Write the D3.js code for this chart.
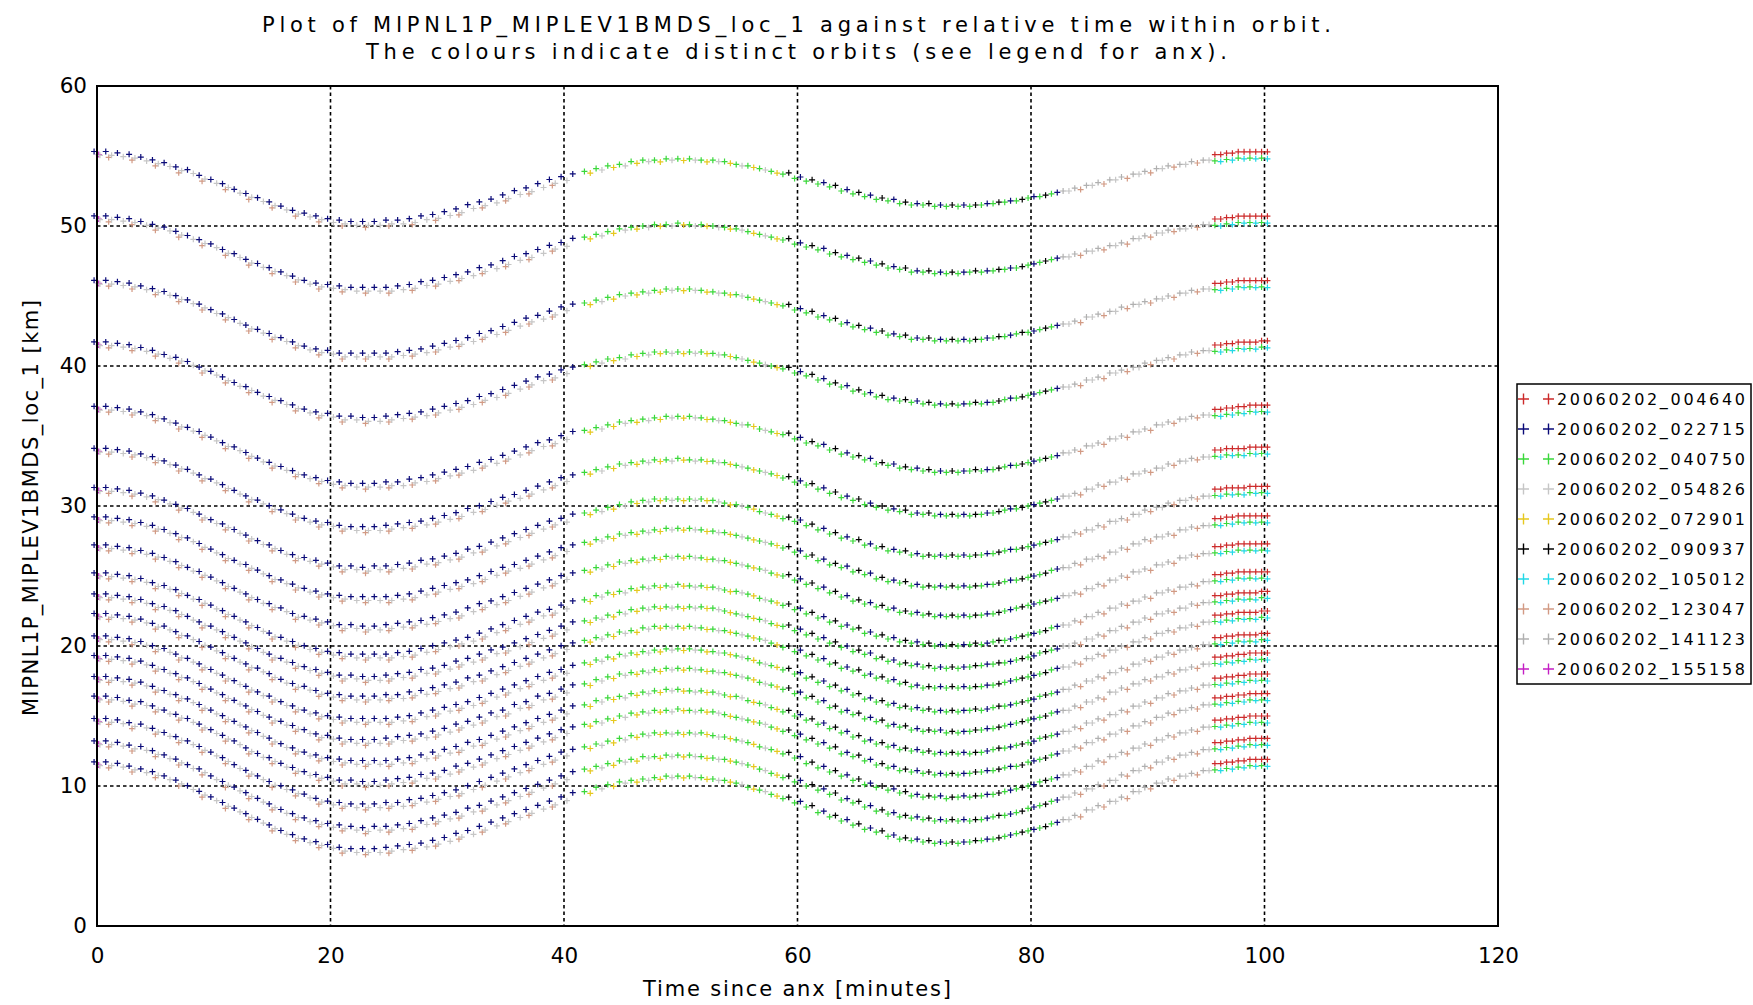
<!DOCTYPE html>
<html>
<head>
<meta charset=utf-8>
<title>MIPNL1P_MIPLEV1BMDS_loc_1</title>
<style>
body{margin:0; background:#fff;}
svg text{font-family:'DejaVu Sans', sans-serif; fill:#000;}
.grid line{stroke:#000; stroke-width:1.6; stroke-dasharray:3.5,3;}
.marker{fill:none; stroke-width:1.2;}
</style>
</head>
<body>
<svg id=chart width=1753 height=1005></svg>
<script src="https://cdn.jsdelivr.net/npm/d3@7"></script>
<script>
//sample times, minutes since anx
var minutes = [0,1,2,3,4,5,6,7,8,9,10,11,12,13,14,15,16,17,18,19,20,21,22,23,24,25,26,27,28,29,30,31,32,33,34,35,36,37,38,39,40,
  41,42,43,44,45,46,47,48,49,50,51,52,53,54,55,56,57,58,59,60,61,62,63,64,65,66,67,68,69,70,
  71,72,73,74,75,76,77,78,79,80,81,82,83,84,85,86,87,88,89,90,91,92,93,94,95,96,97,98,99,100];

//tangent height of each sweep level [km], one value per minute
var level01 = [55.2,55.2,55.1,55.0,54.8,54.6,54.4,54.1,53.9,53.5,53.2,52.9,52.5,52.2,51.9,51.6,51.3,51.0,50.8,50.6,50.4,50.3,50.2,50.2,50.2,
  50.3,50.3,50.4,50.6,50.7,50.9,51.1,51.4,51.6,51.8,52.1,52.4,52.6,52.9,53.2,53.4,53.6,53.9,54.1,54.3,54.4,54.6,54.7,54.7,54.8,54.8,
  54.8,54.7,54.7,54.6,54.4,54.3,54.1,53.9,53.7,53.4,53.2,53.0,52.8,52.5,52.3,52.1,51.9,51.8,51.6,51.5,51.5,51.4,51.4,51.4,
  51.4,51.5,51.6,51.7,51.8,52.0,52.1,52.3,52.5,52.7,52.9,53.1,53.3,53.5,53.7,53.9,54.1,54.3,54.4,54.6,54.7,54.8,54.9,55.0,55.0,55.0];
var level02 = [50.6,50.6,50.5,50.4,50.2,50.0,49.8,49.5,49.2,48.9,48.6,48.2,47.9,47.5,47.2,46.9,46.6,46.3,46.0,45.8,45.7,45.6,45.5,45.5,45.5,
  45.5,45.6,45.7,45.9,46.0,46.2,46.4,46.6,46.9,47.1,47.4,47.7,47.9,48.2,48.5,48.7,49.0,49.2,49.4,49.6,49.8,49.9,50.0,50.1,50.1,50.2,
  50.1,50.1,50.0,49.9,49.8,49.6,49.4,49.2,49.0,48.7,48.5,48.3,48.0,47.8,47.6,47.4,47.2,47.0,46.9,46.7,46.7,46.6,46.6,46.6,
  46.7,46.7,46.8,46.9,47.0,47.2,47.4,47.6,47.8,48.0,48.2,48.4,48.6,48.8,49.1,49.3,49.5,49.7,49.8,50.0,50.1,50.2,50.3,50.4,50.4,50.4];
var level03 = [46.0,46.0,45.9,45.8,45.6,45.4,45.2,44.9,44.6,44.3,43.9,43.6,43.2,42.8,42.5,42.2,41.9,41.6,41.3,41.1,41.0,40.8,40.8,40.8,40.8,
  40.8,40.9,41.0,41.1,41.3,41.5,41.7,41.9,42.2,42.4,42.7,43.0,43.3,43.5,43.8,44.1,44.3,44.5,44.7,44.9,45.1,45.2,45.3,45.4,45.5,45.5,
  45.5,45.4,45.3,45.2,45.1,44.9,44.7,44.5,44.3,44.0,43.8,43.5,43.3,43.0,42.8,42.6,42.4,42.2,42.1,41.9,41.9,41.8,41.8,41.8,
  41.8,41.9,42.0,42.1,42.3,42.4,42.6,42.8,43.0,43.2,43.5,43.7,43.9,44.2,44.4,44.6,44.8,45.0,45.2,45.4,45.5,45.6,45.7,45.8,45.8,45.8];
var level04 = [41.6,41.6,41.5,41.4,41.2,41.0,40.7,40.5,40.2,39.8,39.5,39.1,38.7,38.4,38.0,37.7,37.4,37.1,36.8,36.6,36.5,36.3,36.3,36.2,36.2,
  36.3,36.4,36.5,36.6,36.8,37.0,37.2,37.4,37.7,37.9,38.2,38.5,38.8,39.1,39.3,39.6,39.8,40.1,40.3,40.5,40.6,40.8,40.9,41.0,41.0,41.0,
  41.0,41.0,40.9,40.8,40.6,40.4,40.2,40.0,39.8,39.5,39.3,39.0,38.7,38.5,38.2,38.0,37.8,37.6,37.5,37.4,37.3,37.2,37.2,37.2,
  37.3,37.3,37.4,37.6,37.7,37.9,38.1,38.3,38.5,38.7,39.0,39.2,39.5,39.7,39.9,40.2,40.4,40.6,40.8,41.0,41.1,41.2,41.3,41.4,41.4,41.5];
var level05 = [37.0,37.0,36.9,36.8,36.6,36.4,36.1,35.8,35.5,35.2,34.8,34.4,34.1,33.7,33.3,33.0,32.7,32.4,32.1,31.9,31.7,31.6,31.5,31.5,31.5,
  31.6,31.6,31.8,31.9,32.1,32.3,32.5,32.7,33.0,33.2,33.5,33.8,34.1,34.4,34.6,34.9,35.2,35.4,35.6,35.8,36.0,36.1,36.2,36.3,36.4,36.4,
  36.4,36.3,36.2,36.1,35.9,35.8,35.5,35.3,35.1,34.8,34.5,34.3,34.0,33.7,33.5,33.3,33.0,32.9,32.7,32.6,32.5,32.4,32.4,32.4,
  32.5,32.5,32.6,32.8,32.9,33.1,33.3,33.5,33.8,34.0,34.3,34.5,34.8,35.0,35.3,35.5,35.8,36.0,36.2,36.4,36.5,36.6,36.7,36.8,36.9,36.9];
var level06 = [34.0,34.0,33.9,33.8,33.6,33.4,33.1,32.8,32.5,32.1,31.8,31.4,31.0,30.6,30.3,29.9,29.6,29.3,29.0,28.8,28.7,28.5,28.4,28.4,28.4,
  28.5,28.6,28.7,28.8,29.0,29.2,29.4,29.7,29.9,30.2,30.5,30.7,31.0,31.3,31.6,31.9,32.1,32.4,32.6,32.8,33.0,33.1,33.2,33.3,33.3,33.4,
  33.3,33.3,33.2,33.1,32.9,32.7,32.5,32.3,32.0,31.7,31.5,31.2,30.9,30.6,30.4,30.1,29.9,29.7,29.6,29.4,29.4,29.3,29.3,29.3,
  29.3,29.4,29.5,29.7,29.8,30.0,30.2,30.4,30.7,30.9,31.2,31.5,31.7,32.0,32.3,32.5,32.7,33.0,33.2,33.4,33.5,33.7,33.8,33.8,33.9,33.9];
var level07 = [31.2,31.2,31.1,31.0,30.8,30.6,30.3,30.0,29.7,29.3,28.9,28.6,28.2,27.8,27.4,27.1,26.7,26.4,26.2,26.0,25.8,25.6,25.6,25.5,25.6,
  25.6,25.7,25.8,26.0,26.1,26.3,26.5,26.8,27.0,27.3,27.6,27.9,28.2,28.5,28.8,29.0,29.3,29.5,29.7,29.9,30.1,30.3,30.4,30.5,30.5,30.5,
  30.5,30.5,30.4,30.2,30.1,29.9,29.6,29.4,29.1,28.9,28.6,28.3,28.0,27.7,27.5,27.2,27.0,26.8,26.7,26.5,26.4,26.4,26.4,26.4,
  26.4,26.5,26.6,26.8,26.9,27.1,27.3,27.5,27.8,28.1,28.3,28.6,28.9,29.1,29.4,29.7,29.9,30.2,30.4,30.6,30.7,30.9,31.0,31.0,31.1,31.1];
var level08 = [29.1,29.1,29.0,28.9,28.7,28.5,28.2,27.9,27.6,27.2,26.8,26.4,26.0,25.7,25.3,24.9,24.6,24.3,24.0,23.8,23.6,23.5,23.4,23.4,23.4,
  23.4,23.5,23.6,23.8,24.0,24.2,24.4,24.6,24.9,25.2,25.5,25.7,26.0,26.3,26.6,26.9,27.1,27.4,27.6,27.8,28.0,28.1,28.2,28.3,28.4,28.4,
  28.4,28.3,28.2,28.1,27.9,27.7,27.5,27.3,27.0,26.7,26.4,26.1,25.8,25.6,25.3,25.1,24.8,24.6,24.5,24.3,24.2,24.2,24.2,24.2,
  24.2,24.3,24.4,24.6,24.7,24.9,25.1,25.4,25.6,25.9,26.2,26.4,26.7,27.0,27.3,27.6,27.8,28.0,28.3,28.5,28.6,28.8,28.9,29.0,29.0,29.0];
var level09 = [27.1,27.1,27.0,26.9,26.7,26.5,26.2,25.9,25.5,25.2,24.8,24.4,24.0,23.6,23.2,22.9,22.6,22.2,22.0,21.8,21.6,21.4,21.4,21.3,21.3,
  21.4,21.5,21.6,21.7,21.9,22.1,22.3,22.6,22.9,23.1,23.4,23.7,24.0,24.3,24.6,24.9,25.1,25.4,25.6,25.8,26.0,26.1,26.2,26.3,26.4,26.4,
  26.4,26.3,26.2,26.1,25.9,25.7,25.5,25.2,25.0,24.7,24.4,24.1,23.8,23.5,23.2,23.0,22.8,22.6,22.4,22.3,22.2,22.1,22.1,22.1,
  22.1,22.2,22.3,22.5,22.7,22.9,23.1,23.3,23.6,23.8,24.1,24.4,24.7,25.0,25.3,25.5,25.8,26.0,26.3,26.5,26.6,26.8,26.9,27.0,27.0,27.0];
var level10 = [25.1,25.1,25.0,24.9,24.7,24.4,24.2,23.9,23.5,23.2,22.8,22.4,22.0,21.6,21.2,20.8,20.5,20.2,19.9,19.7,19.5,19.4,19.3,19.3,19.3,
  19.3,19.4,19.5,19.7,19.9,20.1,20.3,20.5,20.8,21.1,21.4,21.7,22.0,22.3,22.5,22.8,23.1,23.3,23.6,23.8,23.9,24.1,24.2,24.3,24.3,24.4,
  24.3,24.3,24.2,24.0,23.9,23.7,23.4,23.2,22.9,22.6,22.3,22.0,21.7,21.4,21.2,20.9,20.7,20.5,20.3,20.2,20.1,20.0,20.0,20.0,
  20.1,20.1,20.3,20.4,20.6,20.8,21.0,21.3,21.5,21.8,22.1,22.4,22.7,23.0,23.2,23.5,23.8,24.0,24.2,24.4,24.6,24.8,24.9,25.0,25.0,25.0];
var level11 = [23.6,23.6,23.5,23.4,23.2,22.9,22.7,22.4,22.0,21.6,21.3,20.9,20.5,20.1,19.7,19.3,19.0,18.7,18.4,18.2,18.0,17.8,17.8,17.7,17.7,
  17.8,17.9,18.0,18.2,18.3,18.5,18.8,19.0,19.3,19.6,19.8,20.1,20.4,20.7,21.0,21.3,21.6,21.8,22.0,22.2,22.4,22.6,22.7,22.8,22.8,22.8,
  22.8,22.8,22.7,22.5,22.3,22.1,21.9,21.6,21.4,21.1,20.8,20.5,20.2,19.9,19.6,19.4,19.1,18.9,18.7,18.6,18.5,18.4,18.4,18.4,
  18.5,18.6,18.7,18.8,19.0,19.2,19.5,19.7,20.0,20.2,20.5,20.8,21.1,21.4,21.7,22.0,22.3,22.5,22.7,23.0,23.1,23.3,23.4,23.5,23.5,23.6];
var level12 = [22.2,22.2,22.1,22.0,21.8,21.5,21.3,20.9,20.6,20.2,19.8,19.4,19.0,18.6,18.3,17.9,17.5,17.2,17.0,16.7,16.5,16.4,16.3,16.3,16.3,
  16.4,16.4,16.6,16.7,16.9,17.1,17.3,17.6,17.8,18.1,18.4,18.7,19.0,19.3,19.6,19.9,20.1,20.4,20.6,20.8,21.0,21.1,21.3,21.4,21.4,21.4,
  21.4,21.3,21.2,21.1,20.9,20.7,20.5,20.2,19.9,19.6,19.3,19.0,18.7,18.4,18.2,17.9,17.7,17.5,17.3,17.1,17.0,17.0,17.0,17.0,
  17.0,17.1,17.2,17.4,17.6,17.8,18.0,18.3,18.5,18.8,19.1,19.4,19.7,20.0,20.3,20.6,20.9,21.1,21.3,21.5,21.7,21.9,22.0,22.1,22.1,22.2];
var level13 = [20.6,20.6,20.5,20.4,20.2,19.9,19.7,19.3,19.0,18.6,18.2,17.8,17.4,17.0,16.6,16.3,15.9,15.6,15.3,15.1,14.9,14.8,14.7,14.7,14.7,
  14.7,14.8,14.9,15.1,15.3,15.5,15.7,15.9,16.2,16.5,16.8,17.1,17.4,17.7,18.0,18.2,18.5,18.8,19.0,19.2,19.4,19.5,19.6,19.7,19.8,19.8,
  19.8,19.7,19.6,19.5,19.3,19.1,18.8,18.6,18.3,18.0,17.7,17.4,17.1,16.8,16.5,16.2,16.0,15.8,15.6,15.5,15.4,15.3,15.3,15.3,
  15.4,15.4,15.6,15.7,15.9,16.1,16.4,16.6,16.9,17.2,17.5,17.8,18.1,18.4,18.7,19.0,19.2,19.5,19.7,19.9,20.1,20.3,20.4,20.5,20.5,20.6];
var level14 = [19.2,19.2,19.1,19.0,18.8,18.5,18.2,17.9,17.6,17.2,16.8,16.4,16.0,15.6,15.2,14.8,14.5,14.2,13.9,13.6,13.5,13.3,13.2,13.2,13.2,
  13.3,13.4,13.5,13.6,13.8,14.0,14.3,14.5,14.8,15.1,15.3,15.7,15.9,16.3,16.5,16.8,17.1,17.3,17.6,17.8,18.0,18.1,18.2,18.3,18.4,18.4,
  18.4,18.3,18.2,18.1,17.9,17.7,17.4,17.2,16.9,16.6,16.3,16.0,15.6,15.3,15.1,14.8,14.6,14.3,14.2,14.0,13.9,13.9,13.8,13.8,
  13.9,14.0,14.1,14.3,14.5,14.7,14.9,15.2,15.4,15.7,16.0,16.3,16.7,17.0,17.3,17.6,17.8,18.1,18.3,18.5,18.7,18.9,19.0,19.1,19.2,19.2];
var level15 = [17.7,17.7,17.6,17.5,17.3,17.0,16.7,16.4,16.1,15.7,15.3,14.9,14.5,14.1,13.7,13.3,12.9,12.6,12.3,12.1,11.9,11.8,11.7,11.7,11.7,
  11.7,11.8,11.9,12.1,12.3,12.5,12.7,13.0,13.2,13.5,13.8,14.1,14.4,14.7,15.0,15.3,15.6,15.8,16.1,16.3,16.4,16.6,16.7,16.8,16.9,16.9,
  16.8,16.8,16.7,16.5,16.4,16.1,15.9,15.6,15.3,15.0,14.7,14.4,14.1,13.8,13.5,13.2,13.0,12.8,12.6,12.5,12.4,12.3,12.3,12.3,
  12.3,12.4,12.6,12.7,12.9,13.1,13.4,13.6,13.9,14.2,14.5,14.8,15.1,15.4,15.7,16.0,16.3,16.6,16.8,17.0,17.2,17.4,17.5,17.6,17.7,17.7];
var level16 = [16.3,16.3,16.2,16.0,15.9,15.6,15.3,15.0,14.7,14.3,13.9,13.5,13.1,12.6,12.2,11.9,11.5,11.2,10.9,10.7,10.5,10.3,10.3,10.2,10.2,
  10.3,10.4,10.5,10.7,10.8,11.0,11.3,11.5,11.8,12.1,12.4,12.7,13.0,13.3,13.6,13.9,14.1,14.4,14.6,14.8,15.0,15.2,15.3,15.4,15.4,15.5,
  15.4,15.4,15.3,15.1,14.9,14.7,14.5,14.2,13.9,13.6,13.3,13.0,12.7,12.3,12.1,11.8,11.5,11.3,11.1,11.0,10.9,10.8,10.8,10.8,
  10.9,11.0,11.1,11.3,11.4,11.7,11.9,12.2,12.5,12.8,13.1,13.4,13.7,14.0,14.3,14.6,14.9,15.2,15.4,15.6,15.8,16.0,16.1,16.2,16.3,16.3];
var level17 = [14.7,14.7,14.6,14.4,14.3,14.0,13.7,13.4,13.1,12.7,12.3,11.9,11.4,11.0,10.6,10.2,9.9,9.6,9.3,9.0,8.8,8.7,8.6,8.6,8.6,
  8.7,8.7,8.9,9.0,9.2,9.4,9.6,9.9,10.2,10.5,10.8,11.1,11.4,11.7,12.0,12.3,12.5,12.8,13.0,13.2,13.4,13.6,13.7,13.8,13.8,13.8,
  13.8,13.8,13.6,13.5,13.3,13.1,12.8,12.6,12.3,12.0,11.6,11.3,11.0,10.7,10.4,10.1,9.9,9.7,9.5,9.3,9.2,9.2,9.1,9.2,
  9.2,9.3,9.4,9.6,9.8,10.0,10.3,10.5,10.8,11.1,11.4,11.8,12.1,12.4,12.7,13.0,13.3,13.6,13.8,14.0,14.2,14.4,14.5,14.6,14.7,14.7];
var level18 = [13.1,13.1,13.0,12.8,12.7,12.4,12.1,11.8,11.4,11.1,10.6,10.2,9.8,9.4,9.0,8.6,8.2,7.9,7.6,7.4,7.2,7.1,7.0,6.9,7.0,
  7.0,7.1,7.2,7.4,7.6,7.8,8.0,8.3,8.5,8.8,9.1,9.4,9.7,10.0,10.3,10.6,10.9,11.2,11.4,11.6,11.8,11.9,12.1,12.1,12.2,12.2,
  12.2,12.1,12.0,11.9,11.7,11.5,11.2,10.9,10.6,10.3,10.0,9.7,9.4,9.0,8.8,8.5,8.2,8.0,7.8,7.7,7.6,7.5,7.5,7.5,
  7.5,7.6,7.8,7.9,8.1,8.4,8.6,8.9,9.2,9.5,9.8,10.1,10.4,10.8,11.1,11.4,11.7,12.0,12.2,12.4,12.6,12.8,12.9,13.0,13.1,13.1];
var level19 = [11.6,11.6,11.5,11.3,11.1,10.9,10.6,10.3,9.9,9.5,9.1,8.7,8.3,7.9,7.5,7.1,6.7,6.4,6.1,5.9,5.7,5.5,5.4,5.4,5.4,
  5.5,5.6,5.7,5.8,6.0,6.2,6.5,6.7,7.0,7.3,7.6,7.9,8.2,8.5,8.8,9.1,9.4,9.6,9.9,10.1,10.3,10.4,10.5,10.6,10.7,10.7,
  10.7,10.6,10.5,10.4,10.2,9.9,9.7,9.4,9.1,8.8,8.5,8.1,7.8,7.5,7.2,6.9,6.7,6.4,6.2,6.1,6.0,5.9,5.9,5.9,
  6.0,6.1,6.2,6.4,6.6,6.8,7.0,7.3,7.6,7.9,8.3,8.6,8.9,9.2,9.6,9.9,10.2,10.5,10.7,10.9,11.1,11.3,11.4,11.5,11.6,11.6];

var levels = [level01,level02,level03,level04,level05,level06,level07,level08,level09,level10,
  level11,level12,level13,level14,level15,level16,level17,level18,level19];

//orbits (anx time) and their colours
var orbitNames = ['20060202_004640','20060202_022715','20060202_040750','20060202_054826','20060202_072901',
  '20060202_090937','20060202_105012','20060202_123047','20060202_141123','20060202_155158'];
var orbitColours = ['#cc2a2a','#0a0a78','#3ad83a','#c6c6c6','#e6c81e','#000000','#22d8e6','#d29a84','#b0b0b0','#c41ec4'];

//minutes covered by each orbit: [from, to, every nth minute, time offset min, height offset km]
var orbitPasses = [
  [[96,100,1,-0.25,0.3],[96,100,1,0.25,0.3]],
  [[0,41,1,-0.25,0.12],[60,82,2,0.25,0.1]],
  [[42,82,1,-0.25,0],[96,100,1,-0.25,-0.15]],
  [[0,40,1,0.25,-0.15],[43,57,2,0.25,-0.1],[83,95,2,0.25,0]],
  [[42,58,2,0.25,-0.12]],
  [[59,81,2,0.25,0.1]],
  [[96,100,1,0.25,-0.2]],
  [[1,39,2,0,-0.3],[84,94,2,0.25,-0.1]],
  [[83,95,1,-0.25,0]],
  [[0,0,1,0.15,-0.1]]
];

var xTicks = [0,20,40,60,80,100,120];
var yTicks = [0,10,20,30,40,50,60];

//setup
var margin = {top: 86, right: 255, bottom: 79, left: 97};
var width = 1753 - margin.left - margin.right;
var height = 1005 - margin.top - margin.bottom;

var svg = d3.select('#chart');
var chart = svg.append('g')
    .attr('transform', 'translate(' + margin.left + ',' + margin.top + ')');

var x = d3.scaleLinear().domain([0, 120]).range([0, width]);
var y = d3.scaleLinear().domain([0, 60]).range([height, 0]);

//gridlines
var grid = chart.append('g').attr('class', 'grid');
grid.selectAll('line.v')
    .data(xTicks.filter(d => d > 0 && d < 120))
  .enter().append('line')
    .attr('class', 'v')
    .attr('x1', d => x(d)).attr('x2', d => x(d))
    .attr('y1', 0).attr('y2', height);
grid.selectAll('line.h')
    .data(yTicks.filter(d => d > 0 && d < 60))
  .enter().append('line')
    .attr('class', 'h')
    .attr('x1', 0).attr('x2', width)
    .attr('y1', d => y(d)).attr('y2', d => y(d));

//markers, later orbits underneath
var points = [];
d3.range(orbitNames.length).reverse().forEach(function(k){
  orbitPasses[k].forEach(function(p){
    minutes.forEach(function(t, i){
      if(t < p[0] || t > p[1] || (t - p[0]) % p[2] !== 0) return;
      levels.forEach(function(row){
        points.push({t: t + p[3], v: row[i] + p[4], k: k});
      });
    });
  });
});

chart.append('g')
  .selectAll('path')
    .data(points)
  .enter().append('path')
    .attr('class', 'marker')
    .attr('transform', d => 'translate(' + x(d.t) + ',' + y(d.v) + ')')
    .attr('d', 'M-3,0H3M0,-3V3')
    .attr('stroke', d => orbitColours[d.k]);

//frame
chart.append('rect')
    .attr('width', width).attr('height', height)
    .attr('fill', 'none').attr('stroke', '#000').attr('stroke-width', 2);

//axes
chart.append('g')
    .attr('transform', 'translate(0,' + height + ')')
    .call(d3.axisBottom(x).tickValues(xTicks).tickSize(0).tickPadding(22))
    .call(g => g.select('.domain').remove())
    .selectAll('text')
    .attr('font-family', "'DejaVu Sans', sans-serif")
    .attr('font-size', '21.5px');

chart.append('g')
    .call(d3.axisLeft(y).tickValues(yTicks).tickSize(0).tickPadding(10))
    .call(g => g.select('.domain').remove())
    .selectAll('text')
    .attr('font-family', "'DejaVu Sans', sans-serif")
    .attr('font-size', '21.5px');

//axis titles
svg.append('text')
    .attr('text-anchor', 'middle')
    .attr('x', 797)
    .attr('y', 996)
    .attr('font-size', '21px')
    .attr('textLength', 308)
    .text('Time since anx [minutes]');

svg.append('text')
    .attr('text-anchor', 'middle')
    .attr('transform', 'translate(38,508) rotate(-90)')
    .attr('font-size', '21px')
    .attr('textLength', 416)
    .text('MIPNL1P_MIPLEV1BMDS_loc_1 [km]');

//title
svg.append('text')
    .attr('x', 262).attr('y', 32)
    .attr('font-size', '21px')
    .attr('textLength', 1069)
    .text('Plot of MIPNL1P_MIPLEV1BMDS_loc_1 against relative time within orbit.');
svg.append('text')
    .attr('x', 366).attr('y', 59)
    .attr('font-size', '21px')
    .attr('textLength', 861)
    .text('The colours indicate distinct orbits (see legend for anx).');

//legend
var legend = svg.append('g').attr('transform', 'translate(1517,384)');
legend.append('rect')
    .attr('width', 234).attr('height', 300)
    .attr('fill', '#fff').attr('stroke', '#000').attr('stroke-width', 1.5);

var rows = legend.selectAll('g.row')
    .data(orbitNames)
  .enter().append('g')
    .attr('class', 'row')
    .attr('transform', (d, i) => 'translate(0,' + (15 + i * 30) + ')');

rows.append('path')
    .attr('d', 'M1,0H12M6.5,-5.5V5.5')
    .attr('fill', 'none').attr('stroke-width', 1.4)
    .attr('stroke', (d, i) => orbitColours[i]);
rows.append('path')
    .attr('d', 'M26,0H37M31.5,-5.5V5.5')
    .attr('fill', 'none').attr('stroke-width', 1.4)
    .attr('stroke', (d, i) => orbitColours[i]);
rows.append('text')
    .attr('x', 40).attr('y', 6)
    .attr('font-size', '16px')
    .attr('textLength', 188)
    .text(d => d);
</script>
</body>
</html>
